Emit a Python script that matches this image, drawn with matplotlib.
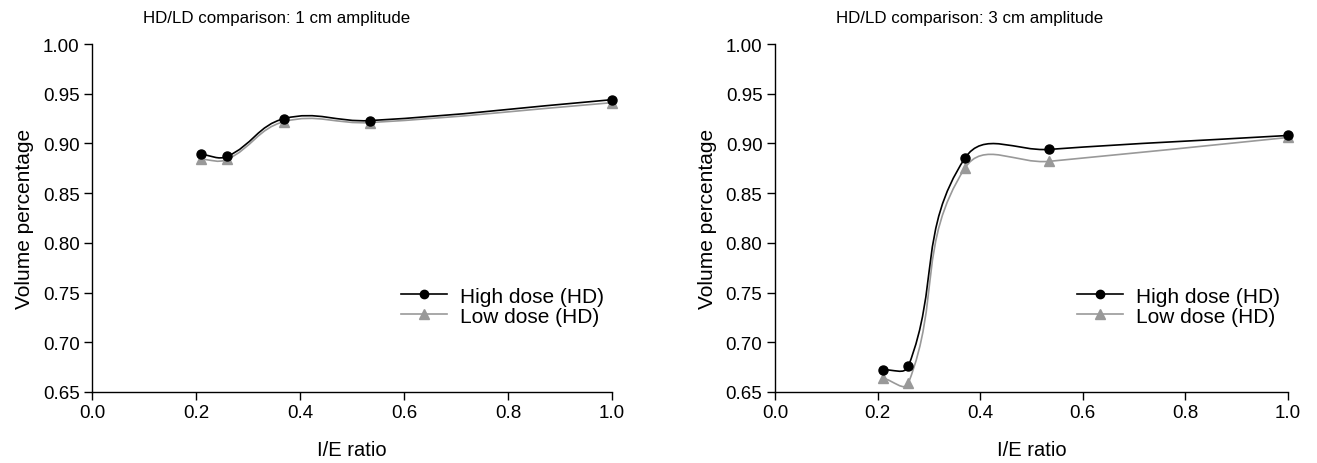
import numpy as np
import matplotlib
matplotlib.use("Agg")
import matplotlib.pyplot as plt
from matplotlib.path import Path
from matplotlib.patches import PathPatch
from matplotlib.lines import Line2D

plt.rcParams['font.family'] = ['Liberation Sans', 'DejaVu Sans']

ie_ratio = [0.21, 0.26, 0.37, 0.535, 1.0]
hd_1cm = [0.889, 0.887, 0.925, 0.923, 0.944]
ld_1cm = [0.884, 0.884, 0.922, 0.921, 0.941]
hd_3cm = [0.672, 0.676, 0.885, 0.894, 0.908]
ld_3cm = [0.664, 0.659, 0.875, 0.882, 0.906]

titles = ["HD/LD comparison: 1 cm amplitude", "HD/LD comparison: 3 cm amplitude"]
legend_labels = ["High dose (HD)", "Low dose (HD)"]
xticks = [0.0, 0.2, 0.4, 0.6, 0.8, 1.0]
yticks = [0.65, 0.70, 0.75, 0.80, 0.85, 0.90, 0.95, 1.00]

W, H = 1317, 464
fig = plt.figure(figsize=(W / 100, H / 100), dpi=100)

GRAY = '#999999'


def smooth_path(x, y, sx, sy, k=0.4):
    # smooth Bezier through the points (tangent scaled by segment length)
    p = np.column_stack([np.asarray(x) * sx, np.asarray(y) * sy])
    n = len(p)
    verts = [tuple(p[0])]
    codes = [Path.MOVETO]
    for i in range(n - 1):
        p0 = p[max(i - 1, 0)]
        p1 = p[i]
        p2 = p[i + 1]
        p3 = p[min(i + 2, n - 1)]
        d = np.linalg.norm(p2 - p1)
        t1 = (p2 - p0) / np.linalg.norm(p2 - p0)
        t2 = (p3 - p1) / np.linalg.norm(p3 - p1)
        c1 = p1 + t1 * d * k
        c2 = p2 - t2 * d * k
        verts += [tuple(c1), tuple(c2), tuple(p2)]
        codes += [Path.CURVE4] * 3
    verts = [(vx / sx, vy / sy) for vx, vy in verts]
    return Path(verts, codes)


def panel(rect, hd, ld, title, tx):
    ax = fig.add_axes(rect)
    sx = rect[2] * W / 1.0
    sy = rect[3] * H / 0.35
    for vals, col, mk, ms in [(ld, GRAY, '^', 7), (hd, 'black', 'o', 6.5)]:
        ax.add_patch(PathPatch(smooth_path(ie_ratio, vals, sx, sy), fill=False,
                               edgecolor=col, lw=1.2, zorder=2))
        ax.plot(ie_ratio, vals, linestyle='none', marker=mk, color=col,
                markersize=ms, zorder=3, clip_on=False)
    ax.set_xlim(0, 1.0)
    ax.set_ylim(0.65, 1.0)
    ax.set_xticks(xticks)
    ax.set_xticklabels([f"{t:.1f}" for t in xticks])
    ax.set_yticks(yticks)
    ax.set_yticklabels([f"{t:.2f}" for t in yticks])
    for s in ['top', 'right']:
        ax.spines[s].set_visible(False)
    for s in ['left', 'bottom']:
        ax.spines[s].set_linewidth(1.0)
    ax.tick_params(direction='out', length=6, width=1.0, labelsize=13.5, pad=3)
    ax.set_xlabel("I/E ratio", fontsize=14.5, labelpad=13)
    ax.set_ylabel("Volume percentage", fontsize=15, labelpad=6)
    ax.set_title(title, fontsize=12.2, pad=16, x=tx)
    handles = [Line2D([], [], color='black', marker='o', markersize=6, lw=1.2),
               Line2D([], [], color=GRAY, marker='^', markersize=6.5, lw=1.2)]
    ax.legend(handles, legend_labels, loc='lower right',
              bbox_to_anchor=(1.008, 0.155), frameon=False, fontsize=15,
              handlelength=2.2, handletextpad=0.6, labelspacing=0.05,
              borderaxespad=0.2)
    return ax


panel([92 / W, 1 - 393 / H, 520 / W, 348 / H], hd_1cm, ld_1cm, titles[0], 0.356)
panel([775 / W, 1 - 393 / H, 513 / W, 348 / H], hd_3cm, ld_3cm, titles[1], 0.38)

fig.savefig("out.png", dpi=100)
